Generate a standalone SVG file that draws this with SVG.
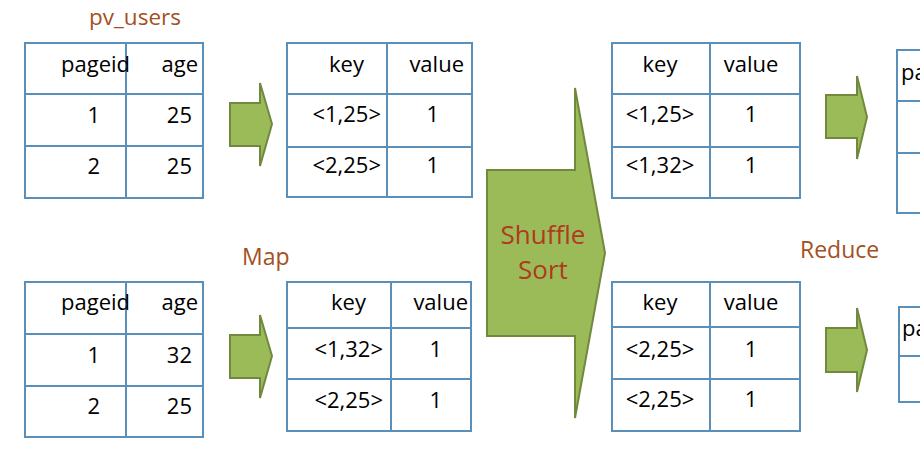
<svg xmlns="http://www.w3.org/2000/svg" width="920" height="449" viewBox="0 0 920 449">
<style>
.grid{fill:#fff;stroke:#5a8fb9;stroke-width:2}
.ln{stroke:#5a8fb9;stroke-width:2}
.t{font-family:"Open Sans","Noto Sans",sans-serif;font-size:22px;fill:#000}
.e{text-anchor:end}
.m{text-anchor:middle}
.lbl{font-family:"Open Sans","Noto Sans",sans-serif;font-size:23px;fill:#a3501e}
.arr{fill:#9bbb59;stroke:#71893f;stroke-width:2;stroke-linejoin:miter}
.ss{font-family:"Open Sans","Noto Sans",sans-serif;font-size:26px;fill:#b03a1e;text-anchor:middle}
</style>
<rect width="920" height="449" fill="#fff"/>
<text class="lbl" x="89" y="25" style="font-size:22.5px">pv_users</text>
<text class="lbl" x="242" y="265">Map</text>
<text class="lbl" x="800" y="258">Reduce</text>

<g id="t1">
<rect class="grid" x="25" y="43" width="178" height="155"/>
<line class="ln" x1="126" y1="43" x2="126" y2="198"/>
<line class="ln" x1="25" y1="94" x2="203" y2="94"/>
<line class="ln" x1="25" y1="146" x2="203" y2="146"/>
<text class="t e" x="130" y="72">pageid</text><text class="t e" x="198" y="72">age</text>
<text class="t e" x="100" y="123">1</text><text class="t e" x="192" y="123">25</text>
<text class="t e" x="100" y="174">2</text><text class="t e" x="192" y="174">25</text>
</g>
<g id="t2">
<rect class="grid" x="25" y="282" width="178" height="155"/>
<line class="ln" x1="126" y1="282" x2="126" y2="437"/>
<line class="ln" x1="25" y1="334" x2="203" y2="334"/>
<line class="ln" x1="25" y1="386" x2="203" y2="386"/>
<text class="t e" x="130" y="310">pageid</text><text class="t e" x="198" y="310">age</text>
<text class="t e" x="100" y="363">1</text><text class="t e" x="192" y="363">32</text>
<text class="t e" x="100" y="414">2</text><text class="t e" x="192" y="414">25</text>
</g>
<g id="t3">
<rect class="grid" x="287" y="43" width="185" height="154"/>
<line class="ln" x1="387" y1="43" x2="387" y2="197"/>
<line class="ln" x1="287" y1="94" x2="472" y2="94"/>
<line class="ln" x1="287" y1="147" x2="472" y2="147"/>
<text class="t e" x="364" y="72">key</text><text class="t e" x="464" y="72">value</text>
<text class="t e" x="381" y="122">&lt;1,25&gt;</text><text class="t e" x="439" y="122">1</text>
<text class="t e" x="381" y="173">&lt;2,25&gt;</text><text class="t e" x="439" y="173">1</text>
</g>
<g id="t4">
<rect class="grid" x="287" y="282" width="184" height="149"/>
<line class="ln" x1="391" y1="282" x2="391" y2="431"/>
<line class="ln" x1="287" y1="328" x2="471" y2="328"/>
<line class="ln" x1="287" y1="379" x2="471" y2="379"/>
<text class="t e" x="366" y="310">key</text><text class="t e" x="468" y="310">value</text>
<text class="t e" x="383" y="357">&lt;1,32&gt;</text><text class="t e" x="442" y="357">1</text>
<text class="t e" x="383" y="408">&lt;2,25&gt;</text><text class="t e" x="442" y="408">1</text>
</g>
<g id="t5">
<rect class="grid" x="612" y="43" width="188" height="155"/>
<line class="ln" x1="710" y1="43" x2="710" y2="198"/>
<line class="ln" x1="612" y1="94" x2="800" y2="94"/>
<line class="ln" x1="612" y1="147" x2="800" y2="147"/>
<text class="t m" x="660" y="72">key</text><text class="t m" x="751" y="72">value</text>
<text class="t m" x="660" y="122">&lt;1,25&gt;</text><text class="t m" x="751" y="122">1</text>
<text class="t m" x="660" y="173">&lt;1,32&gt;</text><text class="t m" x="751" y="173">1</text>
</g>
<g id="t6">
<rect class="grid" x="612" y="282" width="188" height="149"/>
<line class="ln" x1="710" y1="282" x2="710" y2="431"/>
<line class="ln" x1="612" y1="327" x2="800" y2="327"/>
<line class="ln" x1="612" y1="379" x2="800" y2="379"/>
<text class="t m" x="660" y="310">key</text><text class="t m" x="751" y="310">value</text>
<text class="t m" x="660" y="357">&lt;2,25&gt;</text><text class="t m" x="751" y="357">1</text>
<text class="t m" x="660" y="407">&lt;2,25&gt;</text><text class="t m" x="751" y="407">1</text>
</g>
<g id="t7">
<rect class="grid" x="897" y="50" width="40" height="163"/>
<line class="ln" x1="897" y1="101" x2="920" y2="101"/>
<line class="ln" x1="897" y1="153" x2="920" y2="153"/>
<text class="t" x="901" y="80">pa</text>
</g>
<g id="t8">
<rect class="grid" x="899" y="307" width="40" height="95"/>
<line class="ln" x1="899" y1="356" x2="920" y2="356"/>
<text class="t" x="902" y="336">pa</text>
</g>

<g id="connectors">
<polygon class="arr" points="230,103 260,103 260,83 272,124 260,166 260,146 230,146"/>
<polygon class="arr" points="230,335 260,335 260,315 272,356 260,398 260,378 230,378"/>
<polygon class="arr" points="826,95 857,95 857,76 867,117 857,159 857,138 826,138"/>
<polygon class="arr" points="826,328 857,328 857,308 867,350 857,392 857,372 826,372"/>
<g id="shuffle">
<polygon class="arr" points="487,170 575,170 575,88 605,253 575,418 575,336 487,336"/>
<text class="ss" x="543" y="244">Shuffle</text>
<text class="ss" x="543" y="279">Sort</text>
</g>
</g>
</svg>
